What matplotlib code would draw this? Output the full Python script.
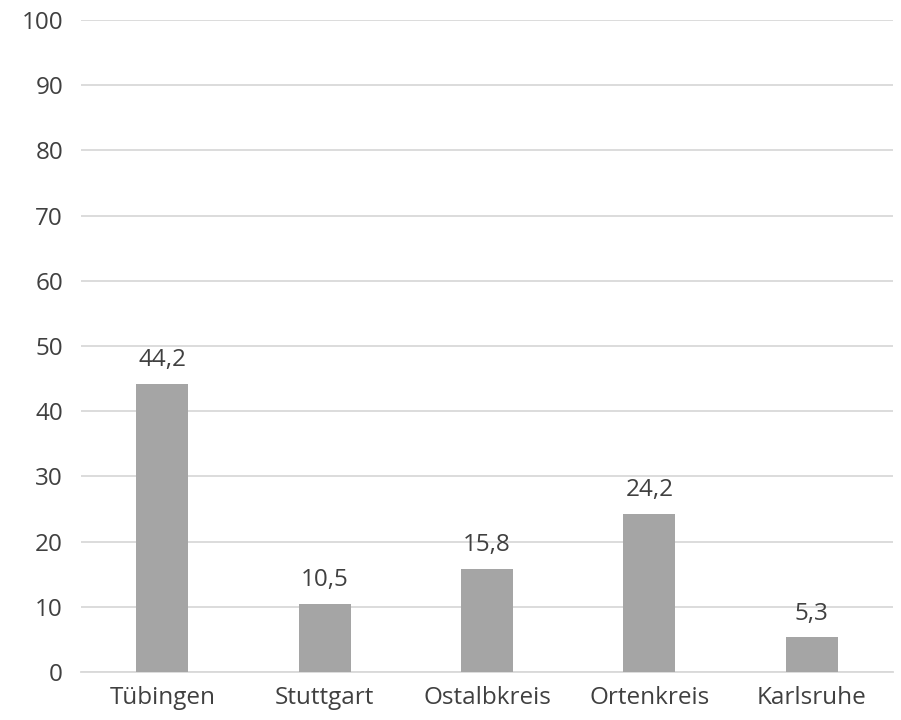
import matplotlib.pyplot as plt

# data
districts = ["Tübingen", "Stuttgart", "Ostalbkreis", "Ortenkreis", "Karlsruhe"]
shares = [44.2, 10.5, 15.8, 24.2, 5.3]
y_ticks = list(range(0, 101, 10))

TEXT = "#404040"
GRID = "#D9D9D9"
BAR = "#A5A5A5"

plt.rcParams["font.family"] = ["Open Sans", "DejaVu Sans"]

fig = plt.figure(figsize=(9.01, 7.2), dpi=100)
ax = fig.add_axes([0.090, 0.0667, 0.901, 0.9055])

x = range(len(districts))
bars = ax.bar(x, shares, width=0.32, color=BAR, zorder=3)

for rect, v in zip(bars, shares):
    ax.text(rect.get_x() + rect.get_width() / 2, v + 1.8,
            f"{v:.1f}".replace(".", ","), ha="center", va="bottom",
            fontsize=17.5, color=TEXT)

ax.set_xlim(-0.5, len(districts) - 0.5)
ax.set_ylim(0, 100)
ax.set_yticks(y_ticks)
ax.set_xticks(list(x))
ax.set_xticklabels(districts)
ax.tick_params(axis="both", length=0, labelsize=17.5, labelcolor=TEXT)
ax.tick_params(axis="y", pad=13)
ax.tick_params(axis="x", pad=10)

ax.grid(axis="y", color=GRID, linewidth=1.3, zorder=0)
for side in ["left", "right", "top"]:
    ax.spines[side].set_visible(False)
ax.spines["bottom"].set_color(GRID)
ax.spines["bottom"].set_linewidth(1.3)

fig.savefig("out.png", dpi=100, facecolor="white")
